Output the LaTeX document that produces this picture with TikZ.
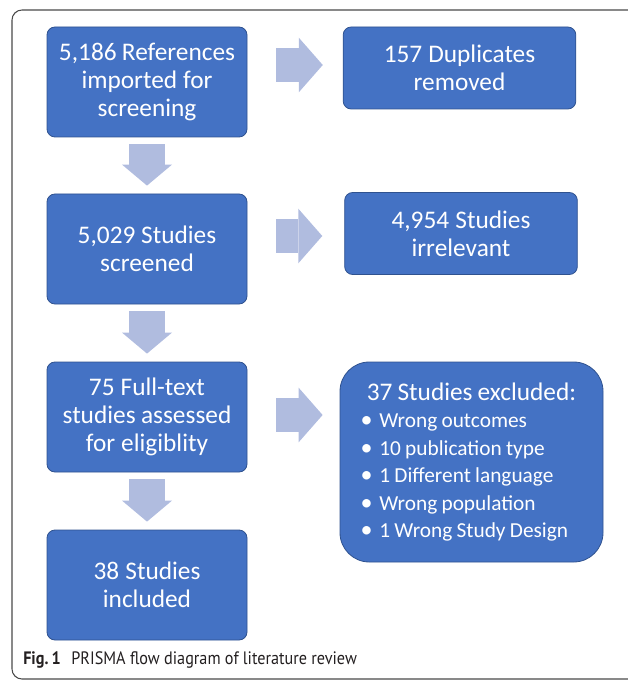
\documentclass[tikz,border=0pt]{standalone}
\usepackage{fontspec}
\setmainfont{Carlito}
\newfontfamily\capfont[FakeStretch=0.9]{PT Sans}
\usetikzlibrary{arrows.meta,calc}
\definecolor{boxblue}{HTML}{4472C4}
\definecolor{boxline}{HTML}{2F528F}
\definecolor{arrowblue}{HTML}{B0BCDF}
\definecolor{framegray}{HTML}{4A4A4A}
\definecolor{captext}{HTML}{231F20}
\newcommand{\tightspace}{\spaceskip=0.2em plus 0.05em\relax}
\newcommand{\listfont}{\fontsize{16}{20.6}\selectfont\tightspace}
\newcommand{\bul}{\makebox[14pt][l]{\fontsize{18}{0}\selectfont•}}

\begin{document}
\begin{tikzpicture}[x=0.75pt, y=-0.75pt,
    stage/.style={draw=boxline, line width=0.6pt, fill=boxblue, text=white,
        rounded corners=6pt, inner sep=0pt, align=center,
        minimum width=150pt, minimum height=82.5pt, text width=146pt,
        font=\fontsize{19}{21}\selectfont, execute at begin node=\tightspace},
    sidebox/.style={stage, minimum width=174.5pt, minimum height=61.5pt, text width=170pt},
    exclbox/.style={stage, rounded corners=22pt, minimum width=197.25pt,
        minimum height=150pt, text width=197.25pt, align=left},
    downarrow/.style={draw=arrowblue, line width=27pt, shorten <=5.25pt, shorten >=6pt,
        -{Triangle[width=37.5pt, length=15.75pt, line width=0pt]}},
    sidearrow/.style={draw=arrowblue, line width=26pt, shorten <=21.75pt,
        -{Triangle[width=41pt, length=18pt, line width=0pt]}}
]
    \useasboundingbox (0,0) rectangle (627,680);
    % frame
    \draw[framegray, line width=0.8pt, rounded corners=7.5pt] (12,10) rectangle (660,679);

    % main column
    \node[stage] (b1) at (147,82)  {5,186 References\\imported for\\screening};
    \node[stage] (b3) at (147,249) {5,029 Studies\\screened};
    \node[stage] (b5) at (147,417) {75 Full-text\\studies assessed\\for eligiblity};
    \node[stage] (b7) at (147,585) {38 Studies\\included};

    % removed / excluded
    \node[sidebox] (b2) at (459.5,68)  {157 Duplicates\\removed};
    \node[sidebox] (b4) at (461,233.5) {4,954 Studies\\irrelevant};
    \node[exclbox] (b6) at (471.5,462) {\centering 37 Studies excluded:\par
        \raggedright\leftskip=15.5pt\relax\listfont
        \bul Wrong outcomes\par
        \bul 10 publication type\par
        \bul 1 Different language\par
        \bul Wrong population\par
        \bul 1 Wrong Study Design\par};

    % arrows
    \foreach \a/\b in {b1/b3, b3/b5, b5/b7}
        \draw[downarrow] (\a.south) -- (\b.north);
    \foreach \a/\b/\dy/\s in {b1/b2/-17/15, b3/b4/-13/16.5, b5/b6/-2/12.75} {
        \coordinate (s) at ($(\a.east)+(0,\dy)$);
        \draw[sidearrow, shorten >=\s pt] (s) -- (s -| \b.west);
    }

    % caption
    \node[anchor=base west, inner sep=0pt, text=captext,
        font=\capfont\fontsize{13.5}{16}\selectfont] (cap) at (23,664)
        {\textbf{Fig.\,1}\hspace{8pt}PRISMA flow diagram of literature review};
\end{tikzpicture}
\end{document}
